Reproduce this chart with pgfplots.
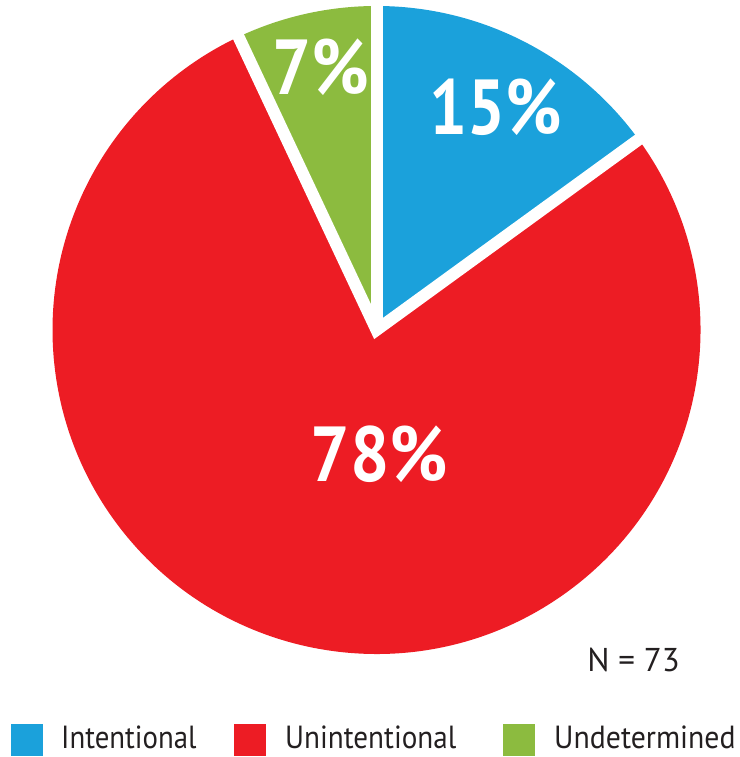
\documentclass[border=0pt]{standalone}
\usepackage{pgfplots}
\usepackage{pgfplotstable}
\pgfplotsset{compat=1.18}
\usepackage{fontspec}
\setmainfont{PT Sans}
\definecolor{pieblue}{HTML}{1BA1DB}
\definecolor{piered}{HTML}{ED1C24}
\definecolor{piegreen}{HTML}{8CBB3F}
\definecolor{txtgray}{HTML}{231F20}
\pgfplotstableread{
label value color
Intentional 15 pieblue
Unintentional 78 piered
Undetermined 7 piegreen
}\piedata
\begin{document}
\begin{tikzpicture}
\begin{axis}[
  scale only axis, width=739pt, height=757pt,
  xmin=0, xmax=739, ymin=0, ymax=757,
  hide axis, clip=false, anchor=south west, at={(0,0)}]
\xdef\startangle{90}
\pgfplotsforeachungrouped \i in {0,1,2}{%
  \pgfplotstablegetelem{\i}{value}\of\piedata \let\v\pgfplotsretval
  \pgfplotstablegetelem{\i}{color}\of\piedata \let\c\pgfplotsretval
  \pgfmathsetmacro\endangle{\startangle-3.6*\v}%
  \edef\temp{\noexpand\fill[\c] (axis cs:376.5,427) -- ++(\startangle:324pt) arc[start angle=\startangle, end angle=\endangle, radius=324pt] -- cycle;}%
  \temp
  \xdef\startangle{\endangle}%
}
% white separators
\draw[white, line width=12pt, line join=miter] (axis cs:376.5,427) ++(36:340pt) -- (axis cs:376.5,427) -- ++(115.2:340pt);
\draw[white, line width=12pt] (axis cs:376.5,427) -- ++(90:340pt);
% labels
\node[white, font=\fontsize{78}{78}\selectfont\bfseries, anchor=base, xscale=0.86] at (axis cs:496,622) {15\%};
\node[white, font=\fontsize{78}{78}\selectfont\bfseries, anchor=base, xscale=0.89] at (axis cs:379.5,275) {78\%};
\node[white, font=\fontsize{78}{78}\selectfont\bfseries, anchor=base, xscale=0.88] at (axis cs:321,662) {7\%};
\node[txtgray, font=\fontsize{33}{33}\selectfont, anchor=base east, inner sep=0pt] at (axis cs:680,85) {N = 73};
% legend
\fill[pieblue] (axis cs:11,1) rectangle (axis cs:43,33);
\fill[piered] (axis cs:234,1) rectangle (axis cs:266,33);
\fill[piegreen] (axis cs:503,1) rectangle (axis cs:535,33);
\node[txtgray, font=\fontsize{32}{32}\selectfont, anchor=base west, inner sep=0pt, xscale=0.9] at (axis cs:61,9) {Intentional};
\node[txtgray, font=\fontsize{32}{32}\selectfont, anchor=base west, inner sep=0pt, xscale=0.91] at (axis cs:285,9) {Unintentional};
\node[txtgray, font=\fontsize{32}{32}\selectfont, anchor=base west, inner sep=0pt, xscale=0.93] at (axis cs:554,9) {Undetermined};
\end{axis}
\pgfresetboundingbox
\path (0,0) rectangle (739pt,757pt);
\end{tikzpicture}
\end{document}
